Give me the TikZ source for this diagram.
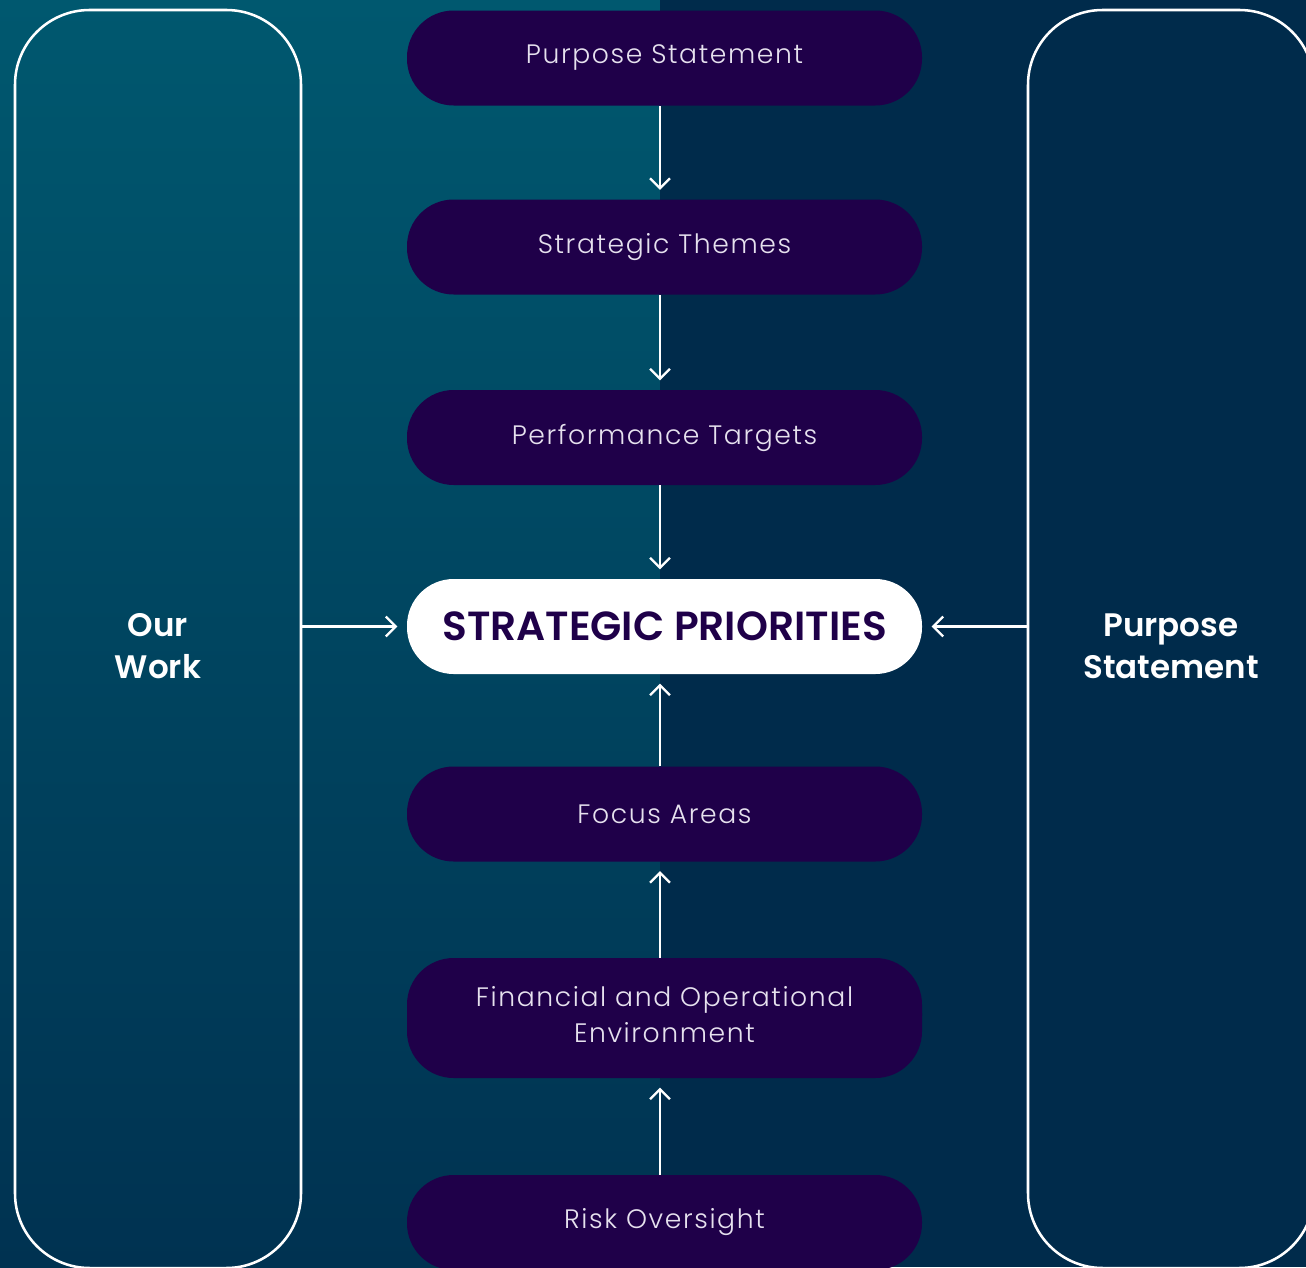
\documentclass[tikz,border=0pt]{standalone}
\usepackage{fontspec}
\setmainfont{Poppins}
\newfontfamily\pillfont{Poppins}[UprightFont=* Light, LetterSpace=6]
\newfontfamily\boldfont{Poppins}[UprightFont=* SemiBold]
\usetikzlibrary{arrows.meta,calc}
\definecolor{bgtop}{HTML}{00586F}
\definecolor{bgbot}{HTML}{003251}
\definecolor{bgright}{HTML}{002B4B}
\definecolor{pill}{HTML}{1F0049}
\definecolor{pilltext}{HTML}{E6E1EE}
\tikzset{
  pillbox/.style={fill=pill, rounded corners=35pt, minimum width=386.25pt, minimum height=71.25pt,
    text=pilltext, font=\pillfont\fontsize{20}{27.5}\selectfont, align=center, inner sep=0pt},
  mainbox/.style={fill=white, rounded corners=35pt, minimum width=386.25pt, minimum height=71.25pt,
    text=pill, font=\boldfont\fontsize{30.5}{34}\selectfont, inner sep=0pt},
  sidebox/.style={draw=white, line width=1.9pt, rounded corners=56pt, minimum width=214.5pt, minimum height=943.5pt, inner sep=0pt},
  sidetext/.style={text=white, font=\boldfont\fontsize{24.4}{31.5}\selectfont, align=center},
  arr/.style={draw=white, line width=1.7pt, -{Straight Barb[length=7.5pt,width=15pt,line width=1.7pt]}, shorten >=7pt}
}
\begin{document}
\begin{tikzpicture}[x=0.75pt,y=-0.75pt]
\useasboundingbox (0,0) rectangle (1306,1267);
\clip (0,0) rectangle (1306,1267);
\shade[top color=bgtop, bottom color=bgbot] (0,0) rectangle (660,1267);
\fill[bgright] (660,0) rectangle (1306,1267);
% side boxes
\node[sidebox] (ow) at (158,639) {};
\node[sidebox] (psr) at (1171,639) {};
\node[sidetext] at (158,646) {Our\\Work};
\node[sidetext] at (1171,646) {Purpose\\Statement};
% pills
\node[pillbox] (ps) at (664.5,58) {Purpose Statement};
\node[pillbox] (st) at (664.5,247) {Strategic Themes};
\node[pillbox] (pt) at (664.5,437.5) {Performance Targets};
\node[mainbox] (sp) at (664.5,626.5) {STRATEGIC PRIORITIES};
\node[pillbox] (fa) at (664.5,814) {Focus Areas};
\node[pillbox, minimum height=90pt] (fo) at (664.5,1018) {};
\node[pillbox] (fot) at (664.5,1014.5) {Financial and Operational\\Environment};
\node[pillbox] (ro) at (664.5,1222.5) {Risk Oversight};
% arrows
\draw[arr] ([xshift=-3.4pt]ps.south) -- ([xshift=-3.4pt]st.north);
\draw[arr] ([xshift=-3.4pt]st.south) -- ([xshift=-3.4pt]pt.north);
\draw[arr] ([xshift=-3.4pt]pt.south) -- ([xshift=-3.4pt]sp.north);
\draw[arr] ([xshift=-3.4pt]fa.north) -- ([xshift=-3.4pt]sp.south);
\draw[arr] ([xshift=-3.4pt]fo.north) -- ([xshift=-3.4pt]fa.south);
\draw[arr] ([xshift=-3.4pt]ro.north) -- ([xshift=-3.4pt]fo.south);
\draw[arr] (ow.east |- sp.west) -- (sp.west);
\draw[arr] (psr.west |- sp.east) -- (sp.east);
\end{tikzpicture}
\end{document}
